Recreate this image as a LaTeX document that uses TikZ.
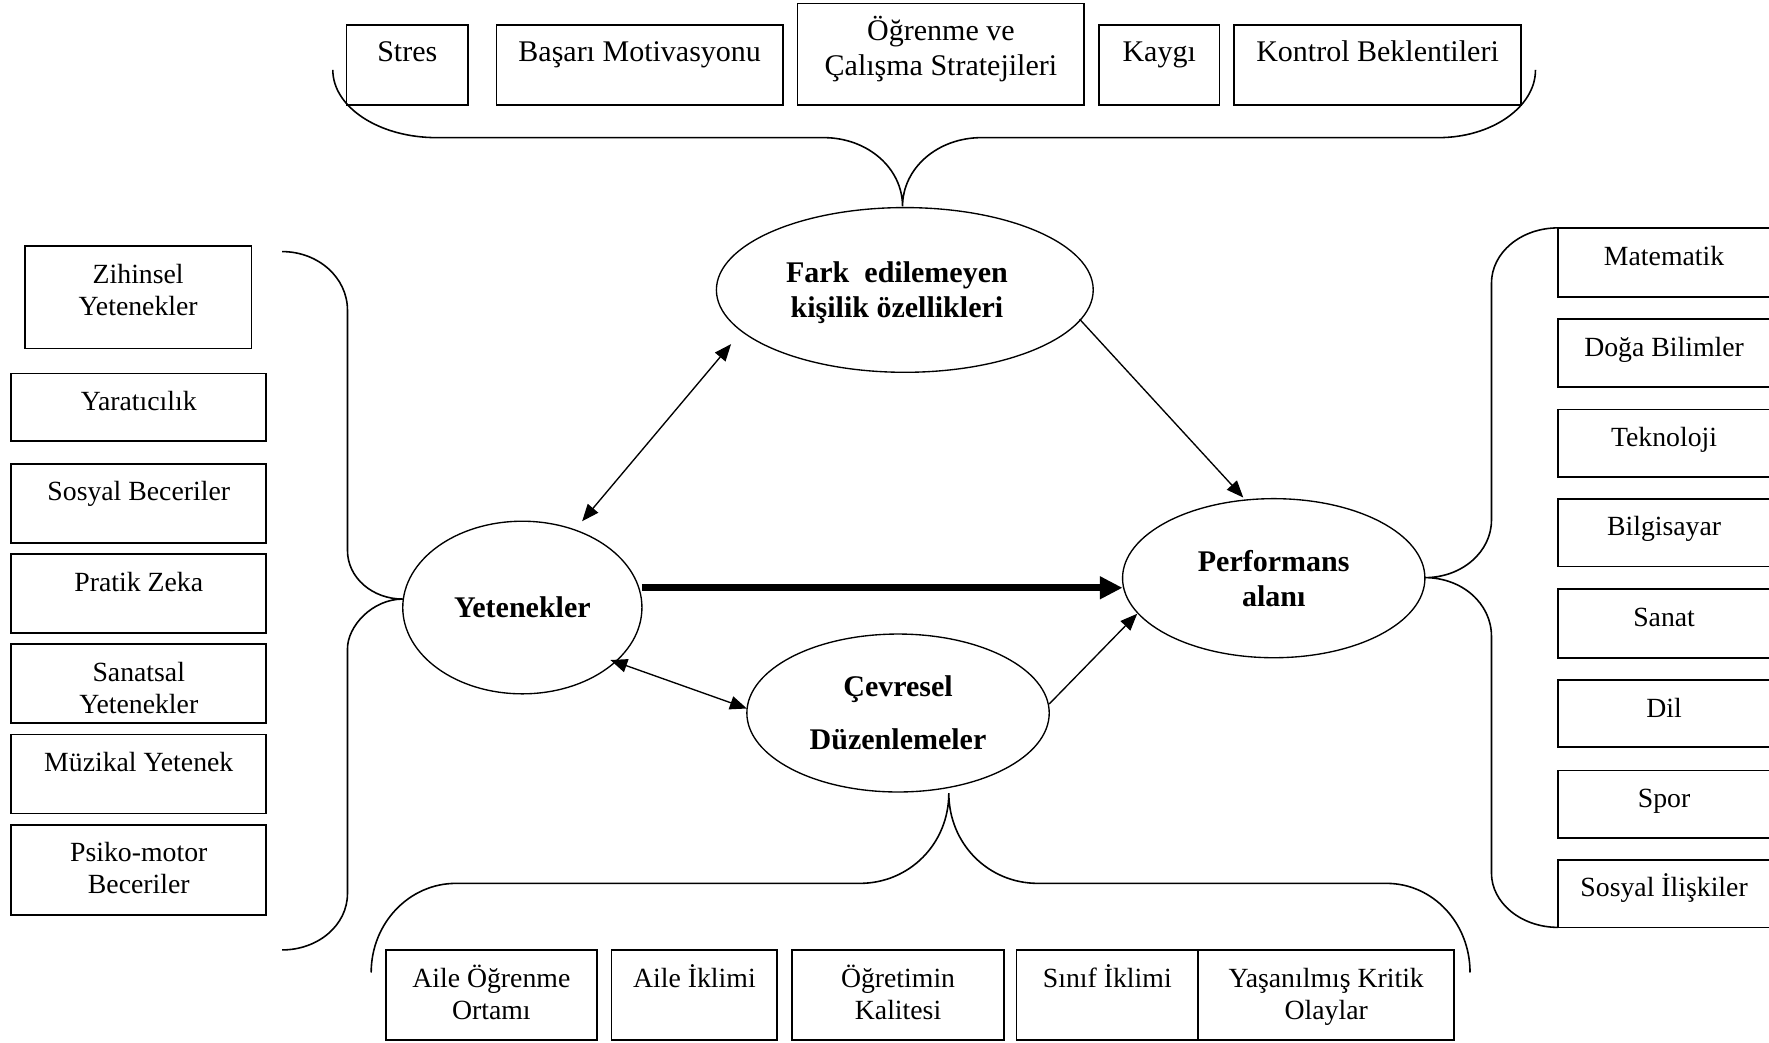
\documentclass[tikz,border=0pt]{standalone}
\usepackage{fontspec}
\setmainfont{Liberation Serif}
\usetikzlibrary{shapes.geometric,arrows.meta,calc}

% framed box with its text set near the top edge;
% the strut fixes the height of the first line, so every first baseline
% sits at the same distance below the frame's top
\newcommand\labox[6]{%
  \node[frame, minimum width={(#4-#2)*0.5pt}, minimum height={(#5-#3)*0.5pt}]
    (#1) at ({(#2+#4)/2},{(#3+#5)/2}) {};
  \node[lbl] (#1-t) at ({(#2+#4)/2},{#3+8.5}) {\rule{0pt}{12pt}#6};}

\begin{document}
\begin{tikzpicture}[x=0.5pt,y=-0.5pt,
  frame/.style={draw, rectangle, line width=0.75pt, inner sep=0pt},
  lbl/.style={inner sep=0pt, align=center, anchor=north,
    font=\fontsize{12.3}{14.2}\selectfont},
  oval/.style={draw, ellipse, line width=0.6pt, inner sep=0pt, align=center,
    font=\fontsize{13.3}{15.5}\selectfont\bfseries},
  ovaltext/.style={inner sep=0pt, align=center,
    font=\fontsize{13.3}{15.5}\selectfont\bfseries},
  brace/.style={line width=0.7pt},
  link/.style={line width=0.6pt, -{Triangle[length=7.5pt,width=6pt]}},
  twoway/.style={line width=0.6pt,
    {Triangle[length=7.5pt,width=6pt]}-{Triangle[length=7.5pt,width=6pt]}},
  mainlink/.style={line width=3.2pt, -{Triangle[length=10pt,width=9.5pt]}}]

\useasboundingbox (0,0) rectangle (1568,924);

% ---- top row: personality traits
\begin{scope}[lbl/.append style={font=\fontsize{13.3}{15.5}\selectfont}]
\labox{stres}{307}{22}{415}{93}{Stres}
\labox{basari}{440}{22}{694}{93}{Başarı Motivasyonu}
\labox{ogrenme}{707}{3}{961}{93}{Öğrenme ve\\Çalışma Stratejileri}
\labox{kaygi}{974}{22}{1081}{93}{Kaygı}
\labox{kontrol}{1094}{22}{1348}{93}{Kontrol Beklentileri}
\end{scope}

% ---- left column: abilities
\labox{zihinsel}{22}{218}{223}{309}{Zihinsel\\Yetenekler}
\labox{yaratici}{10}{331}{236}{391}{Yaratıcılık}
\labox{sosyal}{10}{411}{236}{481}{Sosyal Beceriler}
\labox{pratik}{10}{491}{236}{561}{Pratik Zeka}
\labox{sanatsal}{10}{571}{236}{641}{Sanatsal\\Yetenekler}
\labox{muzikal}{10}{651}{236}{721}{Müzikal Yetenek}
\labox{psiko}{10}{731}{236}{811}{Psiko-motor\\Beceriler}

% ---- right column: performance areas
\labox{matematik}{1381}{202}{1569}{263}{Matematik}
\labox{doga}{1381}{283}{1569}{343}{Doğa Bilimler}
\labox{teknoloji}{1381}{363}{1569}{423}{Teknoloji}
\labox{bilgisayar}{1381}{442}{1569}{502}{Bilgisayar}
\labox{sanat}{1381}{522}{1569}{583}{Sanat}
\labox{dil}{1381}{603}{1569}{662}{Dil}
\labox{spor}{1381}{683}{1569}{743}{Spor}
\labox{iliski}{1381}{762}{1569}{822}{Sosyal İlişkiler}

% ---- bottom row: environment
\labox{aile}{342}{842}{529}{922}{Aile Öğrenme\\Ortamı}
\labox{aileiklim}{542}{842}{689}{922}{Aile İklimi}
\labox{ogretim}{702}{842}{890}{922}{Öğretimin\\Kalitesi}
\labox{sinif}{901}{842}{1062}{922}{Sınıf İklimi}
\labox{yasanan}{1062}{842}{1289}{922}{Yaşanılmış Kritik\\Olaylar}

% ---- central model
\node[oval, minimum width=167pt, minimum height=73pt] (fark) at (802,257) {};
\node[ovaltext] (fark-t) at (795,259) {Fark\ \ edilemeyen\\kişilik özellikleri};
\node[oval, minimum width=106pt, minimum height=76.5pt] (yet) at (463,538.5)
  {Yetenekler};
\node[oval, minimum width=134pt, minimum height=70pt] (cev) at (796,632)
  {Çevresel\\[8pt]Düzenlemeler};
\node[oval, minimum width=134pt, minimum height=70.5pt] (perf) at (1129,512.5)
  {Performans\\alanı};

% ---- connectors
\draw[twoway] ($(yet.center)+(53,-76.5)$) -- ($(fark.center)+(-154,48)$);
\draw[link] ($(fark.center)+(155,26)$) -- ($(perf.center)+(-27,-71.5)$);
\draw[mainlink] ($(yet.center)+(106,-17.5)$) -- ($(perf.center)+(-134,8.5)$);
\draw[twoway] ($(yet.center)+(78,46.5)$) -- ($(cev.center)+(-134,-4)$);
\draw[link] ($(cev.center)+(134,-8)$) -- ($(perf.center)+(-121,31.5)$);

% ---- grouping braces
\draw[brace] (295,62) .. controls (295,95) and (336,122) .. (387,122)
  -- (730,122) .. controls (769,122) and (800,149) .. (800,183)
  .. controls (800,149) and (831,122) .. (870,122)
  -- (1275,122) .. controls (1322,122) and (1361,95) .. (1361,62);

\draw[brace] (329,862) .. controls (329,818) and (363,783) .. (404,783)
  -- (762,783) .. controls (806,783) and (841,748) .. (841,703)
  .. controls (841,748) and (876,783) .. (920,783)
  -- (1229,783) .. controls (1270,783) and (1303,818) .. (1303,862);

\draw[brace] (250,223) .. controls (282,223) and (308,246) .. (308,275)
  -- (308,488) .. controls (308,512) and (330,531) .. (357,531)
  .. controls (330,531) and (308,555) .. (308,575)
  -- (308,792) .. controls (308,820) and (282,842) .. (250,842);

\draw[brace] (1381,202) .. controls (1348,202) and (1322,224) .. (1322,251)
  -- (1322,461) .. controls (1322,489) and (1296,512) .. (1263,512)
  .. controls (1296,512) and (1322,535) .. (1322,564)
  -- (1322,774) .. controls (1322,800) and (1348,822) .. (1381,822);
\end{tikzpicture}
\end{document}
